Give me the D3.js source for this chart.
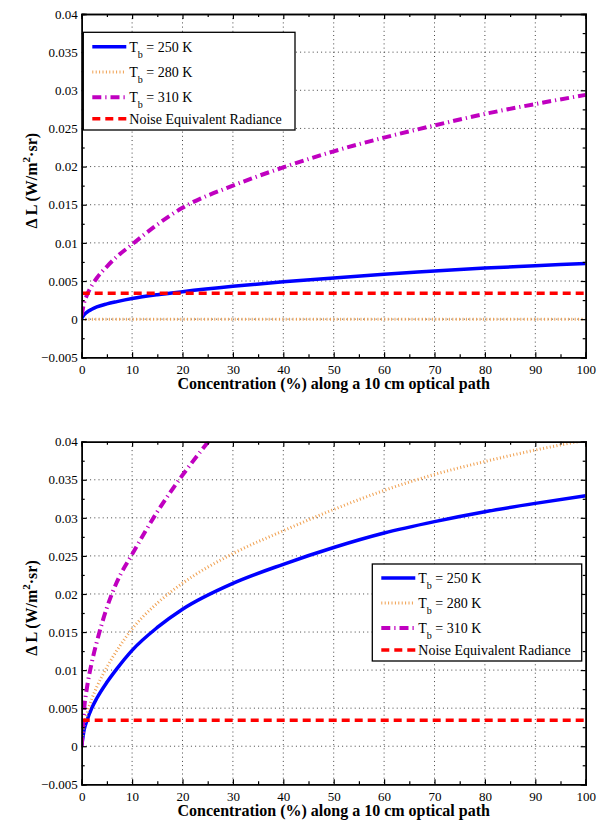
<!DOCTYPE html>
<html>
<head>
<meta charset="utf-8">
<script src="https://cdn.jsdelivr.net/npm/d3@7"></script>
<style>
body { margin: 0; background: #fff; }
text { font-family: "Liberation Serif", "Times New Roman", Times, serif; fill: #000; }
</style>
</head>
<body>
<div id="chart"></div>
<script>
// ---- data ----
var xTicks = [0, 10, 20, 30, 40, 50, 60, 70, 80, 90, 100];
var yTicks = [-0.005, 0, 0.005, 0.01, 0.015, 0.02, 0.025, 0.03, 0.035, 0.04];
var yTickLabels = ["\u22120.005", "0", "0.005", "0.01", "0.015", "0.02", "0.025", "0.03", "0.035", "0.04"];

var conc = [0, 0.5, 1, 2, 3, 5, 7, 10, 15, 20, 30, 40, 50, 60, 70, 80, 90, 100];

// upper panel
var top250 = [0.0001, 0.0006, 0.0009, 0.0013, 0.0016, 0.0020, 0.0023, 0.0027, 0.0032, 0.0036, 0.0043, 0.0049, 0.0054, 0.0059, 0.0063, 0.0067, 0.0070, 0.0073];
var top280 = [0, 0, 0, 0, 0, 0, 0, 0, 0, 0, 0, 0, 0, 0, 0, 0, 0, 0];
var top310 = [0.0005, 0.0022, 0.0031, 0.0044, 0.0054, 0.0069, 0.0082, 0.0098, 0.0124, 0.0146, 0.0175, 0.0199, 0.0220, 0.0238, 0.0254, 0.0269, 0.0282, 0.0294];

// lower panel
var bot250 = [0, 0.0022, 0.0033, 0.0050, 0.0063, 0.0084, 0.0102, 0.0126, 0.0156, 0.0180, 0.0214, 0.0239, 0.0261, 0.0280, 0.0295, 0.0308, 0.0319, 0.0329];
var bot280 = [0, 0.0028, 0.0042, 0.0062, 0.0078, 0.0104, 0.0126, 0.0154, 0.0188, 0.0214, 0.0253, 0.0283, 0.0311, 0.0336, 0.0357, 0.0374, 0.0389, 0.0402];
var conc310b = [0, 0.5, 1, 2, 3, 5, 7, 10, 15, 20, 25, 30];
var bot310 = [0, 0.0050, 0.0075, 0.0110, 0.0137, 0.0182, 0.0216, 0.0252, 0.0308, 0.0356, 0.0399, 0.0439];

var ner = 0.0034;

var legendLabels = ["250 K", "280 K", "310 K", "Noise Equivalent Radiance"];

// ---- styles ----
var styles = [
	{ color: "#0000ff", width: 3.5, dash: null },
	{ color: "#f0a050", width: 3, dash: "1,2.4" },
	{ color: "#c000c0", width: 4, dash: "9,4,1.2,4" },
	{ color: "#ff0000", width: 3.5, dash: "8,5" }
];

var width = 606, height = 823;
var svg = d3.select("#chart").append("svg")
	.attr("width", width)
	.attr("height", height);

function drawPanel(id, top, bottom, seriesList, legend) {
	var left = 81.7, right = 585.7;
	var x = d3.scaleLinear().domain([0, 100]).range([left, right]);
	var y = d3.scaleLinear().domain([-0.005, 0.04]).range([bottom, top]);
	var g = svg.append("g").attr("class", "panel_" + id);

	svg.append("clipPath").attr("id", "clip_" + id)
		.append("rect")
		.attr("x", left).attr("y", top)
		.attr("width", right - left).attr("height", bottom - top);

	// grid lines
	var grid = g.append("g").attr("class", "grid");
	grid.selectAll("line.gx").data(xTicks.slice(1, -1)).enter().append("line")
		.attr("x1", function(d) { return x(d); }).attr("x2", function(d) { return x(d); })
		.attr("y1", top).attr("y2", bottom);
	grid.selectAll("line.gy").data(yTicks.slice(1, -1)).enter().append("line")
		.attr("y1", function(d) { return y(d); }).attr("y2", function(d) { return y(d); })
		.attr("x1", left).attr("x2", right);
	grid.selectAll("line")
		.attr("stroke", "#444")
		.attr("stroke-width", 1)
		.attr("stroke-dasharray", "1,3.2");

	// curves
	var lines = g.append("g").attr("clip-path", "url(#clip_" + id + ")");
	var line = d3.line()
		.x(function(d) { return x(d[0]); })
		.y(function(d) { return y(d[1]); })
		.curve(d3.curveMonotoneX);
	seriesList.forEach(function(s) {
		var pts = s.xs.map(function(v, i) { return [v, s.ys[i]]; });
		lines.append("path")
			.attr("d", line(pts))
			.attr("fill", "none")
			.attr("stroke", styles[s.style].color)
			.attr("stroke-width", styles[s.style].width)
			.attr("stroke-dasharray", styles[s.style].dash);
	});

	// axes with inward ticks, major + minor
	var minorX = d3.range(5, 100, 10);
	var minorY = d3.range(-0.0025, 0.04, 0.005);
	var axes = g.append("g").attr("class", "axes");
	axes.append("g").attr("transform", "translate(0," + bottom + ")")
		.call(d3.axisBottom(x).tickValues(xTicks).tickSize(-5).tickPadding(7));
	axes.append("g").attr("transform", "translate(0," + bottom + ")")
		.call(d3.axisBottom(x).tickValues(minorX).tickSize(-3).tickFormat(""));
	axes.append("g").attr("transform", "translate(0," + top + ")")
		.call(d3.axisTop(x).tickValues(xTicks).tickSize(-5).tickFormat(""));
	axes.append("g").attr("transform", "translate(0," + top + ")")
		.call(d3.axisTop(x).tickValues(minorX).tickSize(-3).tickFormat(""));
	axes.append("g").attr("transform", "translate(" + left + ",0)")
		.call(d3.axisLeft(y).tickValues(yTicks).tickSize(-5).tickPadding(4)
			.tickFormat(function(d, i) { return yTickLabels[i]; }));
	axes.append("g").attr("transform", "translate(" + left + ",0)")
		.call(d3.axisLeft(y).tickValues(minorY).tickSize(-3).tickFormat(""));
	axes.append("g").attr("transform", "translate(" + right + ",0)")
		.call(d3.axisRight(y).tickValues(yTicks).tickSize(-5).tickFormat(""));
	axes.append("g").attr("transform", "translate(" + right + ",0)")
		.call(d3.axisRight(y).tickValues(minorY).tickSize(-3).tickFormat(""));
	axes.selectAll("path.domain").attr("stroke", "#000").attr("stroke-width", 1.5);
	axes.selectAll(".tick line").attr("stroke", "#000").attr("stroke-width", 1.2);
	axes.attr("font-family", null);
	axes.selectAll("g").attr("font-family", null);
	axes.selectAll(".tick text")
		.style("font-size", "13px")
		.attr("fill", "#000");

	// axis titles
	g.append("text")
		.attr("x", (left + right) / 2)
		.attr("y", bottom + 32)
		.attr("text-anchor", "middle")
		.style("font-size", "16px")
		.style("font-weight", "bold")
		.text("Concentration (%) along a 10 cm optical path");
	var yt = g.append("text")
		.attr("transform", "translate(37," + ((top + bottom) / 2 - 5) + ") rotate(-90)")
		.attr("text-anchor", "middle")
		.style("font-size", "16px")
		.style("font-weight", "bold");
	yt.append("tspan").text("\u0394 L (W/m");
	yt.append("tspan").attr("dy", -7).style("font-size", "11px").text("2");
	yt.append("tspan").attr("dy", 7).text("\u00b7sr)");

	// legend
	var lg = g.append("g").attr("class", "legend");
	lg.append("rect")
		.attr("x", legend.x).attr("y", legend.y)
		.attr("width", legend.w).attr("height", legend.h)
		.attr("fill", "#fff").attr("stroke", "#000").attr("stroke-width", 1.3);
	legendLabels.forEach(function(lab, i) {
		var ry = legend.y + legend.rows[i];
		lg.append("line")
			.attr("x1", legend.x + 9).attr("x2", legend.x + 43)
			.attr("y1", ry).attr("y2", ry)
			.attr("stroke", styles[i].color)
			.attr("stroke-width", styles[i].width)
			.attr("stroke-dasharray", styles[i].dash);
		var t = lg.append("text")
			.attr("x", legend.x + 46)
			.attr("y", ry + 5)
			.style("font-size", "14px");
		if(i < 3) {
			t.append("tspan").text("T");
			t.append("tspan").attr("dy", 6).style("font-size", "10px").text("b");
			t.append("tspan").attr("dy", -6).text(" = " + lab);
		} else {
			t.text(lab);
		}
	});
}

drawPanel("top", 14, 357.3, [
	{ xs: conc, ys: top250, style: 0 },
	{ xs: conc, ys: top280, style: 1 },
	{ xs: conc, ys: top310, style: 2 },
	{ xs: [0, 100], ys: [ner, ner], style: 3 }
], { x: 83.3, y: 32.3, w: 211.7, h: 97.7, rows: [14.4, 39.7, 65, 86.5] });

drawPanel("bottom", 441.7, 784.3, [
	{ xs: conc, ys: bot250, style: 0 },
	{ xs: conc, ys: bot280, style: 1 },
	{ xs: conc310b, ys: bot310, style: 2 },
	{ xs: [0, 100], ys: [ner, ner], style: 3 }
], { x: 372.3, y: 564, w: 209.4, h: 97, rows: [14, 39, 64, 86] });
</script>
</body>
</html>
